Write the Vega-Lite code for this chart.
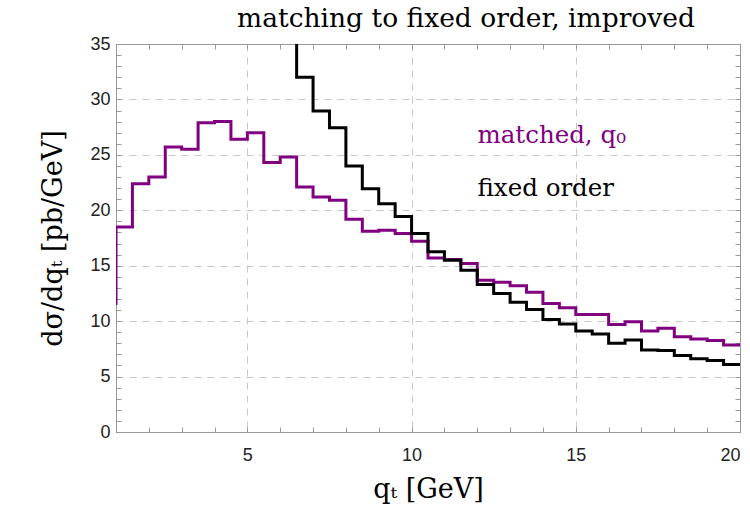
{
  "$schema": "https://vega.github.io/schema/vega-lite/v6.json",
  "autosize": {"type": "none"},
  "width": 624,
  "height": 388,
  "padding": {"left": 116, "top": 44, "right": 10, "bottom": 73},
  "background": "white",
  "title": {
    "text": "matching to fixed order, improved",
    "font": "DejaVu Serif",
    "fontSize": 26.5,
    "fontWeight": "normal",
    "color": "black",
    "anchor": "middle",
    "dx": 38,
    "offset": 3
  },
  "config": {
    "view": {"stroke": "#999999", "strokeWidth": 1},
    "axis": {
      "labelFont": "Liberation Sans",
      "labelFontSize": 18,
      "labelColor": "#222222",
      "domainColor": "#999999",
      "tickColor": "#999999",
      "gridColor": "#c8c8c8",
      "gridDash": [7, 6],
      "gridWidth": 1,
      "titleFont": "DejaVu Serif",
      "titleFontSize": 27,
      "titleFontWeight": "normal",
      "titleColor": "black"
    }
  },
  "datasets": {
    "hist": [
      {"qT": 0.5, "ds": 11.6, "series": "matched, q₀"},
      {"qT": 1.0, "ds": 18.5, "series": "matched, q₀"},
      {"qT": 1.5, "ds": 22.4, "series": "matched, q₀"},
      {"qT": 2.0, "ds": 23.0, "series": "matched, q₀"},
      {"qT": 2.5, "ds": 25.7, "series": "matched, q₀"},
      {"qT": 3.0, "ds": 25.5, "series": "matched, q₀"},
      {"qT": 3.5, "ds": 27.9, "series": "matched, q₀"},
      {"qT": 4.0, "ds": 28.0, "series": "matched, q₀"},
      {"qT": 4.5, "ds": 26.4, "series": "matched, q₀"},
      {"qT": 5.0, "ds": 27.0, "series": "matched, q₀"},
      {"qT": 5.5, "ds": 24.3, "series": "matched, q₀"},
      {"qT": 6.0, "ds": 24.8, "series": "matched, q₀"},
      {"qT": 6.5, "ds": 22.1, "series": "matched, q₀"},
      {"qT": 7.0, "ds": 21.2, "series": "matched, q₀"},
      {"qT": 7.5, "ds": 20.9, "series": "matched, q₀"},
      {"qT": 8.0, "ds": 19.2, "series": "matched, q₀"},
      {"qT": 8.5, "ds": 18.1, "series": "matched, q₀"},
      {"qT": 9.0, "ds": 18.2, "series": "matched, q₀"},
      {"qT": 9.5, "ds": 17.9, "series": "matched, q₀"},
      {"qT": 10.0, "ds": 17.2, "series": "matched, q₀"},
      {"qT": 10.5, "ds": 15.7, "series": "matched, q₀"},
      {"qT": 11.0, "ds": 15.55, "series": "matched, q₀"},
      {"qT": 11.5, "ds": 15.2, "series": "matched, q₀"},
      {"qT": 12.0, "ds": 13.7, "series": "matched, q₀"},
      {"qT": 12.5, "ds": 13.5, "series": "matched, q₀"},
      {"qT": 13.0, "ds": 13.2, "series": "matched, q₀"},
      {"qT": 13.5, "ds": 12.6, "series": "matched, q₀"},
      {"qT": 14.0, "ds": 11.6, "series": "matched, q₀"},
      {"qT": 14.5, "ds": 11.2, "series": "matched, q₀"},
      {"qT": 15.0, "ds": 10.6, "series": "matched, q₀"},
      {"qT": 15.5, "ds": 10.6, "series": "matched, q₀"},
      {"qT": 16.0, "ds": 9.7, "series": "matched, q₀"},
      {"qT": 16.5, "ds": 9.95, "series": "matched, q₀"},
      {"qT": 17.0, "ds": 9.1, "series": "matched, q₀"},
      {"qT": 17.5, "ds": 9.35, "series": "matched, q₀"},
      {"qT": 18.0, "ds": 8.6, "series": "matched, q₀"},
      {"qT": 18.5, "ds": 8.4, "series": "matched, q₀"},
      {"qT": 19.0, "ds": 8.25, "series": "matched, q₀"},
      {"qT": 19.5, "ds": 7.85, "series": "matched, q₀"},
      {"qT": 20.0, "ds": 7.85, "series": "matched, q₀"},
      {"qT": 6.0, "ds": 40.0, "series": "fixed order"},
      {"qT": 6.5, "ds": 32.0, "series": "fixed order"},
      {"qT": 7.0, "ds": 28.95, "series": "fixed order"},
      {"qT": 7.5, "ds": 27.45, "series": "fixed order"},
      {"qT": 8.0, "ds": 24.0, "series": "fixed order"},
      {"qT": 8.5, "ds": 21.95, "series": "fixed order"},
      {"qT": 9.0, "ds": 20.6, "series": "fixed order"},
      {"qT": 9.5, "ds": 19.45, "series": "fixed order"},
      {"qT": 10.0, "ds": 17.9, "series": "fixed order"},
      {"qT": 10.5, "ds": 16.25, "series": "fixed order"},
      {"qT": 11.0, "ds": 15.5, "series": "fixed order"},
      {"qT": 11.5, "ds": 14.6, "series": "fixed order"},
      {"qT": 12.0, "ds": 13.3, "series": "fixed order"},
      {"qT": 12.5, "ds": 12.5, "series": "fixed order"},
      {"qT": 13.0, "ds": 11.7, "series": "fixed order"},
      {"qT": 13.5, "ds": 11.05, "series": "fixed order"},
      {"qT": 14.0, "ds": 10.15, "series": "fixed order"},
      {"qT": 14.5, "ds": 9.75, "series": "fixed order"},
      {"qT": 15.0, "ds": 9.1, "series": "fixed order"},
      {"qT": 15.5, "ds": 8.85, "series": "fixed order"},
      {"qT": 16.0, "ds": 8.0, "series": "fixed order"},
      {"qT": 16.5, "ds": 8.3, "series": "fixed order"},
      {"qT": 17.0, "ds": 7.4, "series": "fixed order"},
      {"qT": 17.5, "ds": 7.35, "series": "fixed order"},
      {"qT": 18.0, "ds": 6.9, "series": "fixed order"},
      {"qT": 18.5, "ds": 6.6, "series": "fixed order"},
      {"qT": 19.0, "ds": 6.45, "series": "fixed order"},
      {"qT": 19.5, "ds": 6.1, "series": "fixed order"},
      {"qT": 20.0, "ds": 6.1, "series": "fixed order"}
    ]
  },
  "data": {"name": "hist"},
  "resolve": {"axis": {"x": "independent", "y": "independent"}},
  "layer": [
    {
      "transform": [{"filter": "datum.series === 'matched, q₀'"}],
      "mark": {"type": "line", "interpolate": "step-after", "strokeWidth": 3, "clip": true},
      "encoding": {
        "x": {
          "field": "qT", "type": "quantitative",
          "scale": {"domain": [1, 20], "nice": false, "zero": false},
          "axis": {
            "orient": "bottom",
            "title": "qₜ [GeV]",
            "titlePadding": 12,
            "values": [1, 2, 3, 4, 5, 6, 7, 8, 9, 10, 11, 12, 13, 14, 15, 16, 17, 18, 19, 20],
            "labelExpr": "datum.value % 5 === 0 ? datum.label : ''",
            "tickSize": -5,
            "labelPadding": 19,
            "gridOpacity": {"condition": {"test": "datum.value % 5 === 0 && datum.value < 20", "value": 1}, "value": 0}
          }
        },
        "y": {
          "field": "ds", "type": "quantitative",
          "scale": {"domain": [0, 35], "nice": false},
          "axis": {
            "orient": "left",
            "title": "dσ/dqₜ [pb/GeV]",
            "titlePadding": 22,
            "values": [0, 1, 2, 3, 4, 5, 6, 7, 8, 9, 10, 11, 12, 13, 14, 15, 16, 17, 18, 19, 20, 21, 22, 23, 24, 25, 26, 27, 28, 29, 30, 31, 32, 33, 34, 35],
            "labelExpr": "datum.value % 5 === 0 ? datum.label : ''",
            "tickSize": -5,
            "labelPadding": 11,
            "gridOpacity": {"condition": {"test": "datum.value % 5 === 0 && datum.value > 0 && datum.value < 35", "value": 1}, "value": 0}
          }
        },
        "color": {
          "field": "series", "type": "nominal",
          "scale": {"domain": ["matched, q₀", "fixed order"], "range": ["#800080", "black"]},
          "legend": {
            "orient": "none",
            "legendX": 337,
            "legendY": 80,
            "title": null,
            "symbolSize": 0,
            "symbolOpacity": 0,
            "symbolStrokeWidth": 0,
            "labelOffset": 0,
            "labelFont": "DejaVu Serif",
            "labelFontSize": 24.5,
            "rowPadding": 28,
            "encode": {
              "labels": {"update": {"fill": {"signal": "datum.value === 'fixed order' ? 'black' : '#800080'"}}}
            }
          }
        }
      }
    },
    {
      "transform": [{"filter": "datum.series === 'fixed order'"}],
      "mark": {"type": "line", "interpolate": "step-after", "strokeWidth": 3, "clip": true},
      "encoding": {
        "x": {
          "field": "qT", "type": "quantitative",
          "axis": {
            "orient": "top", "title": null, "labels": false, "grid": false, "domain": false,
            "values": [1, 2, 3, 4, 5, 6, 7, 8, 9, 10, 11, 12, 13, 14, 15, 16, 17, 18, 19, 20],
            "tickSize": -5
          }
        },
        "y": {
          "field": "ds", "type": "quantitative",
          "axis": {
            "orient": "right", "title": null, "labels": false, "grid": false, "domain": false,
            "values": [0, 1, 2, 3, 4, 5, 6, 7, 8, 9, 10, 11, 12, 13, 14, 15, 16, 17, 18, 19, 20, 21, 22, 23, 24, 25, 26, 27, 28, 29, 30, 31, 32, 33, 34, 35],
            "tickSize": -5
          }
        },
        "color": {"field": "series", "type": "nominal", "legend": null}
      }
    }
  ]
}
